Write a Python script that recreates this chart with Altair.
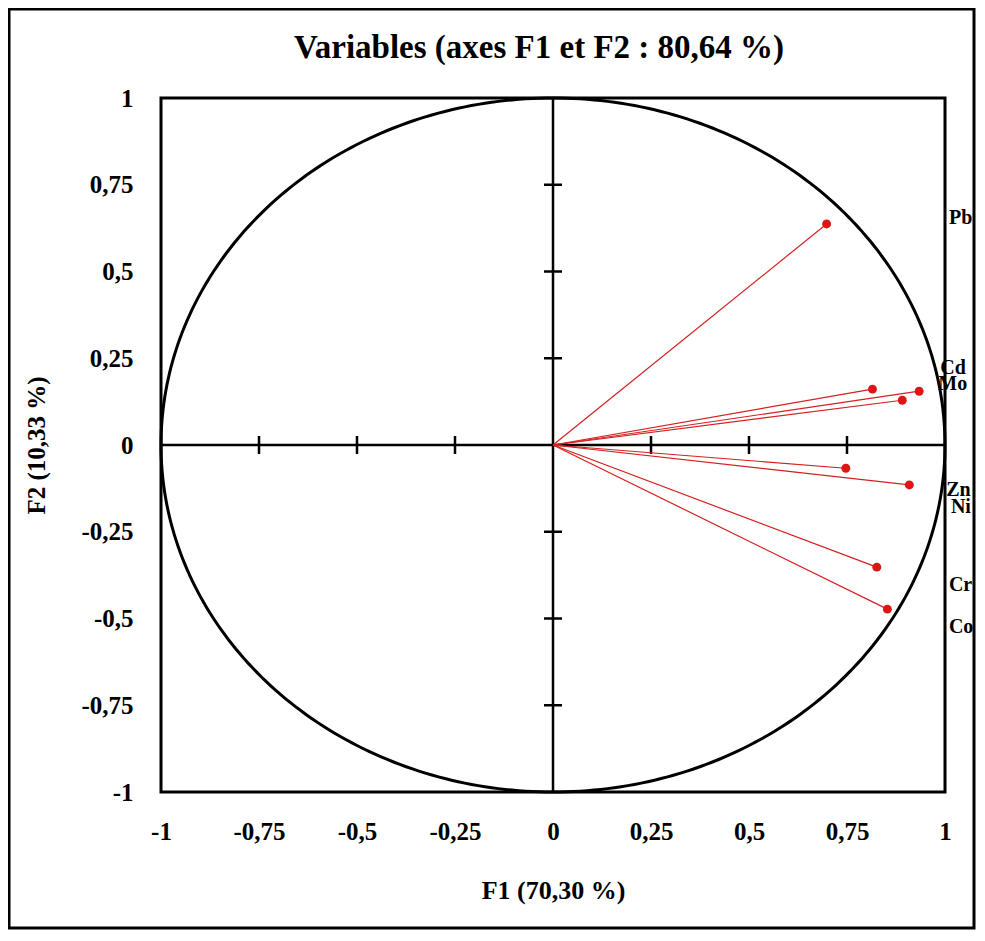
import altair as alt
import numpy as np
import pandas as pd

# ---- data ----
var_names = ["Pb", "Cd", "Cu", "Mo", "Zn", "Ni", "Cr", "Co"]
f1_values = [0.698, 0.815, 0.934, 0.891, 0.747, 0.909, 0.826, 0.853]
f2_values = [0.637, 0.161, 0.155, 0.129, -0.067, -0.115, -0.352, -0.473]

label_names = ["Pb", "Cd", "Mo", "Zn", "Ni", "Cr", "Co"]
label_f1 = [1.010, 0.988, 0.983, 1.003, 1.015, 1.010, 1.010]
label_f2 = [0.654, 0.222, 0.176, -0.130, -0.179, -0.403, -0.524]

axis_ticks = [-1, -0.75, -0.5, -0.25, 0, 0.25, 0.5, 0.75, 1]
inner_ticks = [-0.75, -0.5, -0.25, 0.25, 0.5, 0.75]

title_text = "Variables (axes F1 et F2 : 80,64 %)"
x_title = "F1 (70,30 %)"
y_title = "F2 (10,33 %)"

# ---- tables ----
pts = pd.DataFrame({"name": var_names, "F1": f1_values, "F2": f2_values,
                    "o1": [0.0] * len(var_names), "o2": [0.0] * len(var_names)})
labs = pd.DataFrame({"name": label_names, "F1": label_f1, "F2": label_f2})
theta = np.linspace(0, 2 * np.pi, 361)
circle = pd.DataFrame({"F1": np.cos(theta), "F2": np.sin(theta), "k": np.arange(361)})
zero_v = pd.DataFrame({"F1": [0.0], "F2": [-1.0], "F2b": [1.0]})
zero_h = pd.DataFrame({"F2": [0.0], "F1": [-1.0], "F1b": [1.0]})
ticks_df = pd.DataFrame({"v": inner_ticks, "z": [0.0] * len(inner_ticks)})
one = pd.DataFrame({"a": [0]})

FONT = "Liberation Serif"
dom = [-1, 1]
xscale = alt.Scale(domain=dom, nice=False, zero=False)
yscale = alt.Scale(domain=dom, nice=False, zero=False)
label_expr = "replace(toString(datum.value), '.', ',')"

xaxis = alt.Axis(values=axis_ticks, labelExpr=label_expr, title=x_title, grid=False,
                 ticks=False, domain=False, labelPadding=27, labelFlush=False,
                 labelOverlap=False, labelFont=FONT, labelFontWeight="bold",
                 labelFontSize=25, labelColor="black", titleFont=FONT,
                 titleFontWeight="bold", titleFontSize=26, titleColor="black",
                 titleY=98, titleBaseline="middle")
yaxis = alt.Axis(values=axis_ticks, labelExpr=label_expr, title=y_title, grid=False,
                 ticks=False, domain=False, labelPadding=28, labelFlush=False,
                 labelOverlap=False, labelFont=FONT, labelFontWeight="bold",
                 labelFontSize=25, labelColor="black", titleFont=FONT,
                 titleFontWeight="bold", titleFontSize=25, titleColor="black",
                 titleX=-125, titleBaseline="middle", titleAngle=270)


def X(field):
    return alt.X(field, type="quantitative", scale=xscale, axis=xaxis)


def Y(field):
    return alt.Y(field, type="quantitative", scale=yscale, axis=yaxis)


frame = alt.Chart(one).mark_rect(filled=False, stroke="black", strokeWidth=3).encode(
    x=alt.value(-152), x2=alt.value(813), y=alt.value(-89), y2=alt.value(830))

title = alt.Chart(one).mark_text(font=FONT, fontWeight="bold", fontSize=33,
                                 baseline="middle", align="center", color="black").encode(
    x=alt.value(378), y=alt.value(-50), text=alt.value(title_text))

circ = alt.Chart(circle).mark_line(color="black", strokeWidth=3).encode(
    x=X("F1"), y=Y("F2"), order="k:Q")

vline = alt.Chart(zero_v).mark_rule(color="black", strokeWidth=2.5).encode(
    x=X("F1"), y=Y("F2"), y2="F2b")
hline = alt.Chart(zero_h).mark_rule(color="black", strokeWidth=2.5).encode(
    y=Y("F2"), x=X("F1"), x2="F1b")

xt = alt.Chart(ticks_df).mark_tick(orient="vertical", size=18, thickness=2.5,
                                   color="black", opacity=1).encode(
    x=X("v"), y=Y("z"))
yt = alt.Chart(ticks_df).mark_tick(orient="horizontal", size=18, thickness=2.5,
                                   color="black", opacity=1).encode(
    y=Y("v"), x=X("z"))

vectors = alt.Chart(pts).mark_rule(color="#d42020", strokeWidth=1.2).encode(
    x=X("o1"), y=Y("o2"), x2="F1", y2="F2")
points = alt.Chart(pts).mark_point(filled=True, shape="circle", size=80,
                                   color="#dd1515", opacity=1).encode(
    x=X("F1"), y=Y("F2"))
texts = alt.Chart(labs).mark_text(font=FONT, fontWeight="bold", fontSize=20,
                                  align="left", baseline="middle", color="black").encode(
    x=X("F1"), y=Y("F2"), text="name:N")

chart = alt.layer(frame, title, circ, vline, hline, xt, yt, vectors, points, texts).properties(
    width=784, height=694,
    background="white",
    autosize=alt.AutoSizeParams(type="none"),
    padding={"left": 153, "top": 90, "right": 31, "bottom": 138},
).configure_view(stroke="black", strokeWidth=3)

chart.save("out.html", embed_options={"renderer": "svg", "actions": False})
